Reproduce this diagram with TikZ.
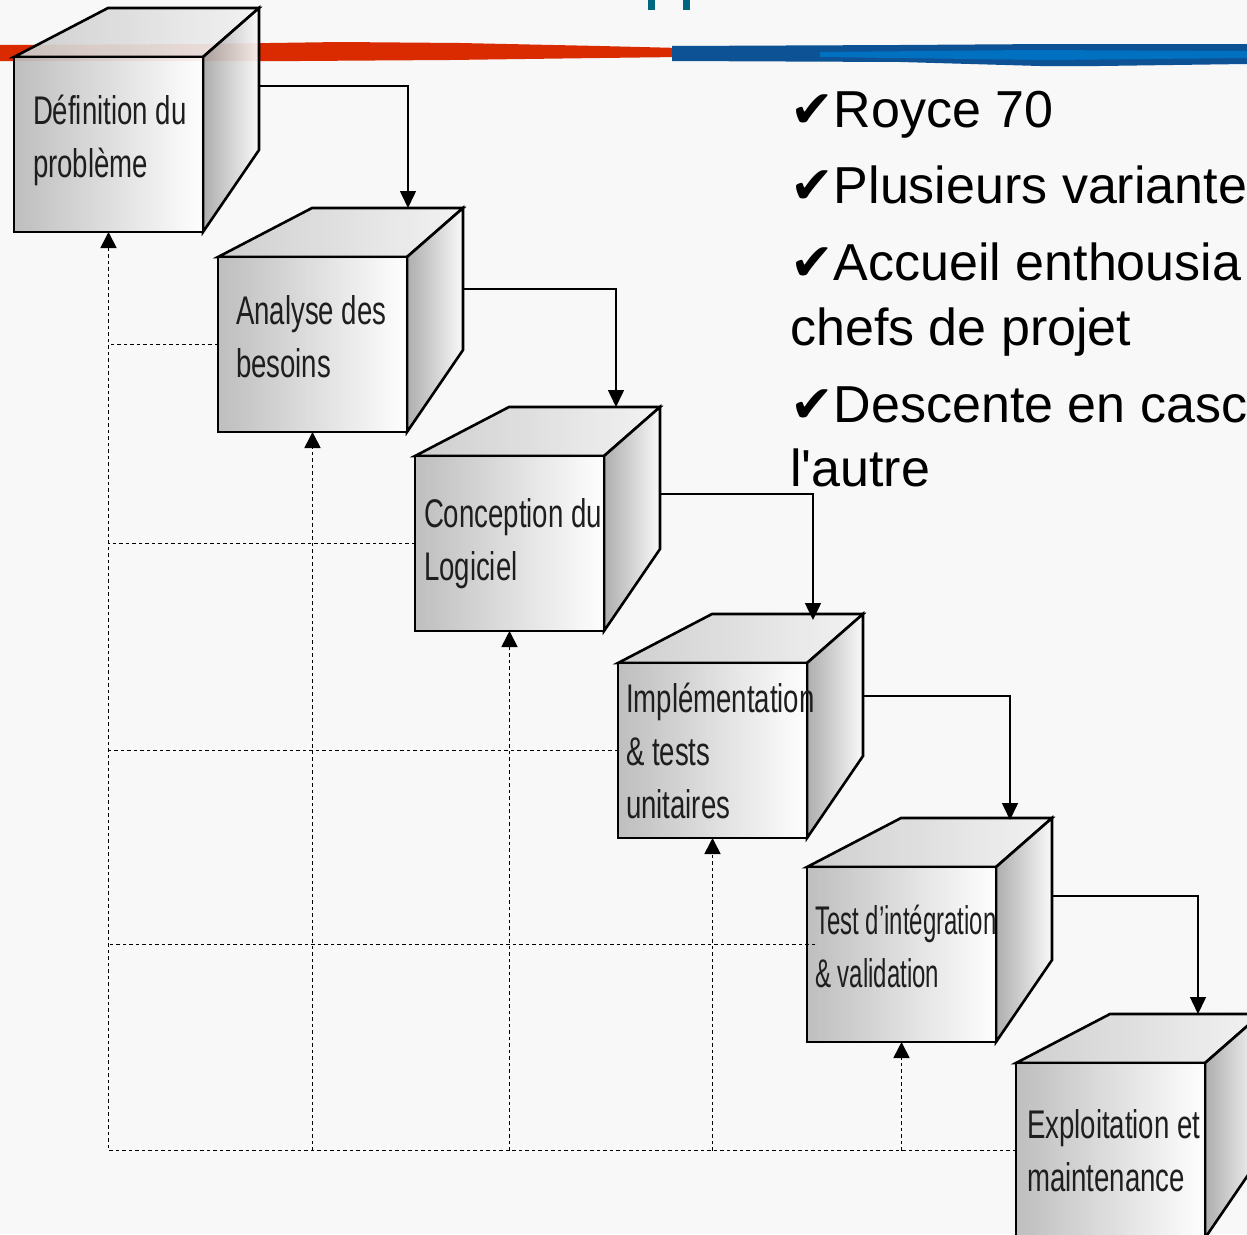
\documentclass[tikz,border=0pt]{standalone}
\usepackage{fontspec}
\setmainfont{Liberation Sans}[Ligatures=TeXOff]
\newfontfamily\boxfont[FakeStretch=0.69]{Liberation Sans}
\newfontfamily\tightfont[FakeStretch=0.6]{Liberation Sans}
\newfontfamily\chkfont{DejaVu Sans}
\usetikzlibrary{arrows.meta, calc}
\definecolor{slidebg}{RGB}{248,248,248}
\definecolor{redline}{RGB}{218,43,0}
\definecolor{bluedark}{RGB}{14,82,150}
\definecolor{bluelight}{RGB}{0,112,192}
\definecolor{titleteal}{RGB}{0,102,128}
\definecolor{boxtext}{RGB}{30,30,30}
\pgfdeclarelayer{slide}
\pgfdeclarelayer{faces}
\pgfsetlayers{slide,faces,main}

\begin{document}
\begin{tikzpicture}[x=1pt, y=-1pt,
  face/.style={draw=black, line width=2.6pt, fill opacity=0.93},
  front/.style={face, anchor=north west, outer sep=0pt, inner ysep=0pt,
    minimum width=189pt, minimum height=175pt, align=flush left,
    text=boxtext, text opacity=1, font=\boxfont\fontsize{40}{53}\selectfont,
    left color=black!27, right color=white},
  topface/.style={face, left color=black!20, right color=black!5},
  sideface/.style={face, left color=black!34, right color=black!2},
  flow/.style={line width=1.5pt, -{Triangle[width=16pt,length=17pt]}},
  back/.style={line width=1.7pt, dash pattern=on 3.5pt off 3pt, -{Triangle[width=16pt,length=16pt]}},
  backline/.style={line width=1.7pt, dash pattern=on 3.5pt off 3pt},
  bullet/.style={anchor=base west, inner sep=0pt, font=\fontsize{52}{65}\selectfont}]

\useasboundingbox (0,0) rectangle (1247,1234);
\clip (0,0) rectangle (1247,1234);

\begin{pgfonlayer}{slide}
\fill[slidebg] (0,0) rectangle (1247,1234);
% slide header strokes
\fill[titleteal] (648,0) rectangle (655,10);
\fill[titleteal] (683,0) rectangle (690,10);
\fill[redline] (0,45) -- (200,44) -- (340,42) -- (460,43) -- (600,46) -- (680,48)
  -- (680,57) -- (600,58) -- (450,60) -- (300,61) -- (0,61) -- cycle;
\fill[bluedark] (672,46) -- (900,45) -- (1050,44) -- (1247,44) -- (1247,64)
  -- (1100,66) -- (1040,66) -- (900,62) -- (672,61) -- cycle;
\fill[bluelight] (820,52) -- (1030,50) -- (1247,51) -- (1247,58) -- (1050,60) -- (820,57) -- cycle;
\end{pgfonlayer}

% phases
\node[front, inner xsep=19pt, text width=151pt] (def) at (14,57) {\mbox{Définition du}\\\mbox{problème}\par\vspace*{8pt}};
\node[front, inner xsep=18pt, text width=153pt] (ana) at (218,257) {\mbox{Analyse des}\\\mbox{besoins}\par\vspace*{16pt}};
\node[front, inner xsep=9pt, text width=171pt] (con) at (415,456) {\mbox{Conception du}\\\mbox{Logiciel}};
\node[front, inner xsep=8pt, text width=173pt] (imp) at (618,663) {\mbox{Implémentation}\\\mbox{\& tests}\\\mbox{unitaires}};
\node[front, inner xsep=8pt, text width=173pt, font=\tightfont\fontsize{40}{53}\selectfont] (tst) at (807,867) {\mbox{Test d’intégration}\\\mbox{\& validation}\par\vspace*{16pt}};
\node[front, inner xsep=11pt, text width=167pt] (exp) at (1016,1063) {\mbox{Exploitation et}\\\mbox{maintenance}};

\begin{pgfonlayer}{faces}
\foreach \b in {def,ana,con,imp,tst,exp} {
  \draw[topface] (\b.north west) -- ++(94,-49) -- ++(151,0) -- (\b.north east) -- cycle;
  \draw[sideface] (\b.north east) -- ++(56,-49) -- ++(0,142) -- (\b.south east) -- cycle;
}
\end{pgfonlayer}

% cascade
\draw[flow] ($(def.north east)+(56,29)$) -| ($(ana.north east)+(1,-49)$);
\draw[flow] ($(ana.north east)+(56,32)$) -| ($(con.north east)+(12,-49)$);
\draw[flow] ($(con.north east)+(56,38)$) -| ($(imp.north east)+(6,-43)$);
\draw[flow] ($(imp.north east)+(56,33)$) -| ($(tst.north east)+(14,-47)$);
\draw[flow] ($(tst.north east)+(56,29)$) -| ($(exp.north east)+(-7,-49)$);

% feedback
\draw[back] (exp.west) -| (def.south);
\foreach \b/\d/\e in {ana/0/0,con/0/0,imp/0/0,tst/8/-10} {
  \draw[back] (\b.south |- exp.west) -- (\b.south);
  \draw[backline] ($(\b.west)+(\d,\e)$) -- ($(\b.west -| def.south)+(0,\e)$);
}

% notes
\node[bullet] (l1) at (790,127) {{\chkfont ✔}Royce 70};
\node[bullet] (l2) at (790,203) {{\chkfont ✔}Plusieurs variante};
\node[bullet] (l3) at (790,280) {{\chkfont ✔}Accueil enthousia};
\node[bullet] (l4) at (790,345) {chefs de projet};
\node[bullet] (l5) at (790,422) {{\chkfont ✔}Descente en casc};
\node[bullet] (l6) at (790,486) {l'autre};

\end{tikzpicture}
\end{document}
